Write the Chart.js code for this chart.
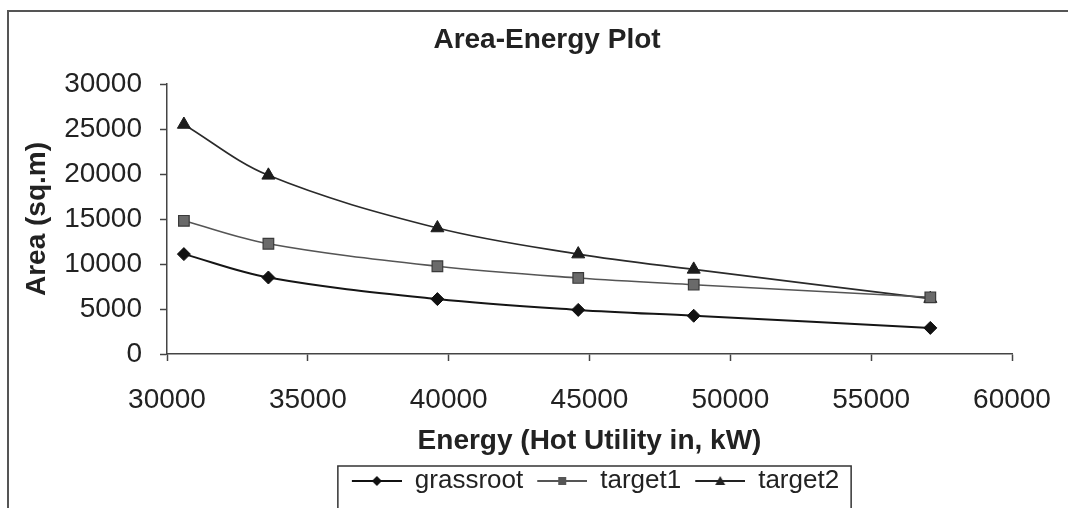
<!DOCTYPE html>
<html>
<head>
<meta charset="utf-8">
<title>Area-Energy Plot</title>
<script src="https://cdn.jsdelivr.net/npm/chart.js@4"></script>
<style>
  html, body { margin: 0; padding: 0; background: #fff; }
  #wrap { width: 1068px; height: 508px; position: relative; }
</style>
</head>
<body>
<div id="wrap"><canvas id="mycanvas"></canvas></div>
<script>
// values
var energy = [30600, 33600, 39600, 44600, 48700, 57100];
var grassroot = [11100, 8500, 6100, 4900, 4250, 2900];
var target1 = [14800, 12250, 9750, 8450, 7700, 6300];
var target2 = [25500, 19850, 14000, 11100, 9400, 6150];
var seriesNames = ["grassroot", "target1", "target2"];
var xTicks = [30000, 60000, 5000];   // min, max, step
var yTicks = [0, 30000, 5000];
var chartTitle = "Area-Energy Plot";

var FONT = "'Liberation Sans', Arial, sans-serif";
var INK = "#222";

function toPoints(ys) {
	var pts = [];
	for (var i in ys) {
		pts.push({ x: energy[i], y: ys[i] });
	}
	return pts;
}

// small picture for the legend: a line with the marker on it
function legendSample(shape, color) {
	var c = document.createElement("canvas");
	c.width = 62;
	c.height = 26;
	var g = c.getContext("2d");
	g.strokeStyle = color;
	g.lineWidth = 2;
	g.beginPath();
	g.moveTo(12, 13);
	g.lineTo(62, 13);
	g.stroke();
	g.fillStyle = color;
	g.beginPath();
	if (shape == "rectRot") {
		g.moveTo(37, 8); g.lineTo(42, 13); g.lineTo(37, 18); g.lineTo(32, 13);
	} else if (shape == "rect") {
		g.rect(33, 9, 8, 8);
	} else {
		g.moveTo(37, 8); g.lineTo(42, 17); g.lineTo(32, 17);
	}
	g.closePath();
	g.fill();
	return c;
}

var samples = [
	legendSample("rectRot", "#111"),
	legendSample("rect", "#555"),
	legendSample("triangle", "#222")
];

var chartdata = {
	datasets: [
		{
			label: seriesNames[0],
			data: toPoints(grassroot),
			borderColor: "#151515",
			backgroundColor: "#111",
			borderWidth: 2,
			pointStyle: "rectRot",
			pointRadius: 6.5,
			pointBorderWidth: 1,
			pointBorderColor: "#111",
			tension: 0.35
		},
		{
			label: seriesNames[1],
			data: toPoints(target1),
			borderColor: "#555",
			backgroundColor: "#6a6a6a",
			borderWidth: 1.6,
			pointStyle: "rect",
			pointRadius: 7.5,
			pointBorderWidth: 1.2,
			pointBorderColor: "#3a3a3a",
			tension: 0.35
		},
		{
			label: seriesNames[2],
			data: toPoints(target2),
			borderColor: "#2a2a2a",
			backgroundColor: "#1c1c1c",
			borderWidth: 1.6,
			pointStyle: "triangle",
			pointRadius: 7.5,
			pointBorderWidth: 1,
			pointBorderColor: "#1c1c1c",
			tension: 0.35
		}
	]
};

// white page, outer frame, title (sits a bit right of centre), legend box
var framePlugin = {
	id: "frame",
	beforeDraw: function(chart) {
		var ctx = chart.ctx;
		ctx.save();
		ctx.fillStyle = "#fff";
		ctx.fillRect(0, 0, chart.width, chart.height);
		ctx.strokeStyle = "#555";
		ctx.lineWidth = 2;
		ctx.beginPath();
		ctx.moveTo(8, chart.height + 2);
		ctx.lineTo(8, 11);
		ctx.lineTo(chart.width + 2, 11);
		ctx.stroke();

		ctx.fillStyle = INK;
		ctx.font = "bold 28px " + FONT;
		ctx.textAlign = "center";
		ctx.textBaseline = "middle";
		ctx.fillText(chartTitle, 547, 40);
		ctx.restore();
	},
	afterDraw: function(chart) {
		var lg = chart.legend;
		if (!lg || !lg.legendHitBoxes.length) return;
		var boxes = lg.legendHitBoxes;
		var first = boxes[0];
		var last = boxes[boxes.length - 1];
		var ctx = chart.ctx;
		ctx.save();
		ctx.strokeStyle = "#333";
		ctx.lineWidth = 1.5;
		ctx.strokeRect(first.left - 2, lg.top, last.left + last.width + 12 - (first.left - 2), chart.height);
		ctx.restore();
	}
};

var ctx = document.getElementById("mycanvas");
var areaGraph = new Chart(ctx, {
	type: "line",
	data: chartdata,
	plugins: [framePlugin],
	options: {
		responsive: true,
		maintainAspectRatio: false,
		animation: false,
		layout: { padding: { left: 10, right: 56, top: 84, bottom: 4 } },
		plugins: {
			title: { display: false },
			legend: {
				display: true,
				position: "bottom",
				fullSize: false,
				labels: {
					usePointStyle: true,
					pointStyleWidth: 62,
					padding: 2,
					color: INK,
					font: { family: FONT, size: 26 },
					generateLabels: function(chart) {
						var items = Chart.defaults.plugins.legend.labels.generateLabels(chart);
						for (var i in items) {
							items[i].pointStyle = samples[i];
						}
						return items;
					}
				}
			},
			tooltip: { enabled: false }
		},
		scales: {
			x: {
				type: "linear",
				min: xTicks[0],
				max: xTicks[1],
				afterFit: function(scale) {
					scale.height = 112;
					scale.paddingLeft = 0;
					scale.paddingRight = 0;
				},
				ticks: {
					stepSize: xTicks[2],
					padding: 22,
					maxRotation: 0,
					color: INK,
					font: { family: FONT, size: 28 },
					callback: function(v) { return String(v); }
				},
				grid: { drawOnChartArea: false, drawTicks: true, tickLength: 7, tickColor: "#444", tickWidth: 1.5 },
				border: { color: "#444", width: 1.5 },
				title: {
					display: true,
					text: "Energy (Hot Utility in, kW)",
					color: INK,
					font: { family: FONT, size: 28, weight: "bold" },
					padding: { top: 0, bottom: 8 }
				}
			},
			y: {
				min: yTicks[0],
				max: yTicks[1],
				afterFit: function(scale) { scale.width = 157; },
				ticks: {
					stepSize: yTicks[2],
					padding: 18,
					color: INK,
					font: { family: FONT, size: 28 },
					callback: function(v) { return String(v); }
				},
				grid: { drawOnChartArea: false, drawTicks: true, tickLength: 7, tickColor: "#444", tickWidth: 1.5 },
				border: { color: "#444", width: 1.5 },
				title: {
					display: true,
					text: "Area (sq.m)",
					color: INK,
					font: { family: FONT, size: 28, weight: "bold" },
					padding: { top: 10, bottom: 0 }
				}
			}
		}
	}
});
</script>
</body>
</html>
